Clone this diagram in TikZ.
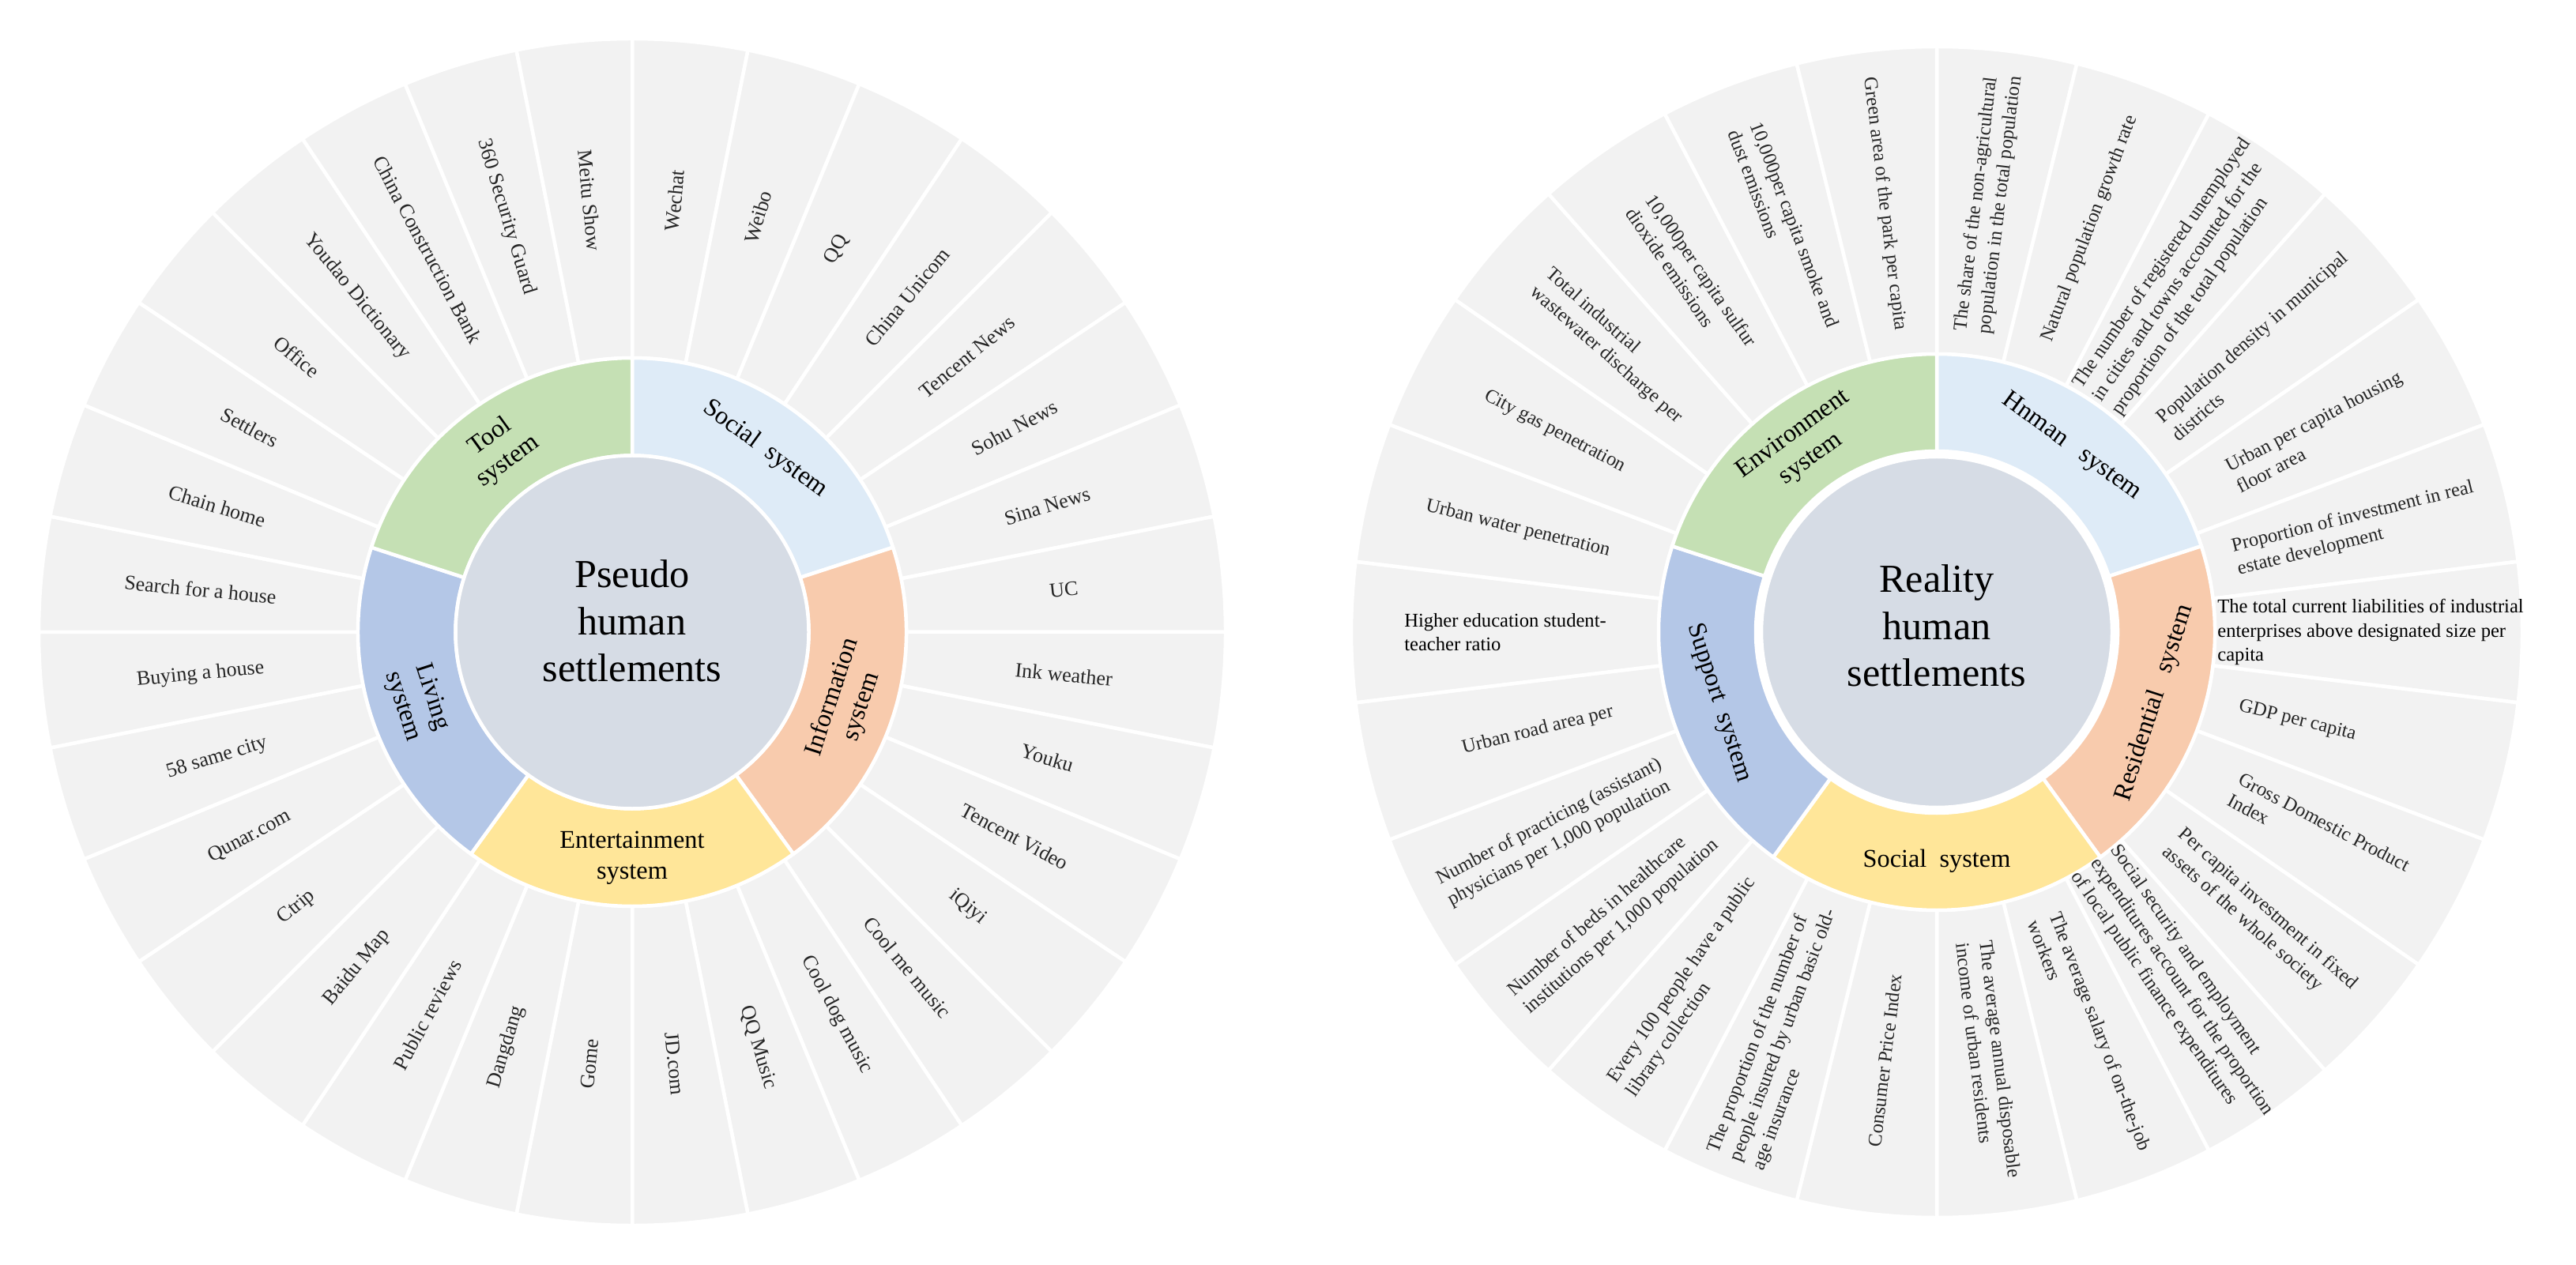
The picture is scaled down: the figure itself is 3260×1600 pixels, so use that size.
\documentclass[tikz,border=0pt]{standalone}
\usepackage{fontspec}
\setmainfont{Liberation Serif}
\usetikzlibrary{calc}
\definecolor{leafgray}{HTML}{F2F2F2}
\definecolor{hubgray}{HTML}{D6DCE5}
\definecolor{sysblue}{HTML}{DEEBF7}
\definecolor{syspeach}{HTML}{F8CBAD}
\definecolor{sysyellow}{HTML}{FFE699}
\definecolor{sysmid}{HTML}{B4C7E7}
\definecolor{sysgreen}{HTML}{C5E0B4}
\definecolor{leafink}{HTML}{262626}
\tikzset{
  sectorline/.style={draw=white, line width=0.45mm},
  lefttext/.style={font=\fontsize{7.4}{8.8}\selectfont, text=leafink, align=left, inner sep=0pt},
  righttext/.style={font=\fontsize{7}{8.6}\selectfont, text=leafink, align=left, inner sep=0pt},
  systext/.style={font=\fontsize{9.2}{11}\selectfont, align=center, inner sep=0pt},
  hubtext/.style={font=\fontsize{14.3}{17}\selectfont, align=center, inner sep=0pt},
}
% annular sector: center, start angle, end angle, inner r, outer r, fill
\newcommand\ringsector[6]{%
  \filldraw[sectorline, fill=#6] ($(#1)+(#2:#5)$) arc[start angle=#2, end angle=#3, radius=#5]
    -- ($(#1)+(#3:#4)$) arc[start angle=#3, end angle=#2, radius=#4] -- cycle;}
% left leaf label: index, name, text
\newcommand\leafL[3]{%
  \pgfmathsetmacro\lfang{90-(#1+0.5)*11.25}%
  \pgfmathsetmacro\lfrot{cos(\lfang)>=0 ? \lfang : \lfang+180}%
  \node[lefttext, rotate=\lfrot] (#2) at ($(cL)+(\lfang:549)$) {#3};}
% right leaf label: [radius], index, name, text
\newcommand\leafR[4][546]{%
  \pgfmathsetmacro\lfang{90-(#2+0.5)*360/26}%
  \pgfmathsetmacro\lfrot{cos(\lfang)>=0 ? \lfang : \lfang+180}%
  \node[righttext, rotate=\lfrot] (#3) at ($(cR)+(\lfang:#1)$) {#4};}
% system label: center, angle, radius, name, text
\newcommand\sysLabel[5]{%
  \pgfmathsetmacro\sysrot{sin(#2)>0 ? #2-90 : #2+90}%
  \node[systext, rotate=\sysrot] (#4) at ($(#1)+(#2:#3)$) {#5};}

\begin{document}
\begin{tikzpicture}[x=0.1mm, y=0.1mm]
\useasboundingbox (0,0) rectangle (3260,1600);
\coordinate (cL) at (800,800);
\coordinate (cR) at (2451,800);

% ---------------- left chart ----------------
\foreach \k in {0,...,31}{
  \pgfmathsetmacro\aone{90-\k*11.25}
  \pgfmathsetmacro\atwo{90-(\k+1)*11.25}
  \ringsector{cL}{\aone}{\atwo}{347}{751}{leafgray}
}
\ringsector{cL}{90}{18}{223.5}{347}{sysblue}
\ringsector{cL}{18}{-54}{223.5}{347}{syspeach}
\ringsector{cL}{-54}{-126}{223.5}{347}{sysyellow}
\ringsector{cL}{-126}{-198}{223.5}{347}{sysmid}
\ringsector{cL}{162}{90}{223.5}{347}{sysgreen}
\filldraw[sectorline, fill=hubgray] (cL) circle[radius=223.5];

\node[hubtext] (hubL) at (800,814) {Pseudo\\human\\settlements};

\sysLabel{cL}{54}{286}{sysL1}{Social\ \ system}
\sysLabel{cL}{-18}{286}{sysL2}{Information\\system}
\sysLabel{cL}{-90}{286}{sysL3}{Entertainment\\system}
\sysLabel{cL}{-162}{286}{sysL4}{Living\\system}
\sysLabel{cL}{126}{286}{sysL5}{Tool\\system}

\leafL{0}{pl0}{Wechat}
\leafL{1}{pl1}{Weibo}
\leafL{2}{pl2}{QQ}
\leafL{3}{pl3}{China Unicom}
\leafL{4}{pl4}{Tencent News}
\leafL{5}{pl5}{Sohu News}
\leafL{6}{pl6}{Sina News}
\leafL{7}{pl7}{UC}
\leafL{8}{pl8}{Ink weather}
\leafL{9}{pl9}{Youku}
\leafL{10}{pl10}{Tencent Video}
\leafL{11}{pl11}{iQiyi}
\leafL{12}{pl12}{Cool me music}
\leafL{13}{pl13}{Cool dog music}
\leafL{14}{pl14}{QQ Music}
\leafL{15}{pl15}{JD.com}
\leafL{16}{pl16}{Gome}
\leafL{17}{pl17}{Dangdang}
\leafL{18}{pl18}{Public reviews}
\leafL{19}{pl19}{Baidu Map}
\leafL{20}{pl20}{Ctrip}
\leafL{21}{pl21}{Qunar.com}
\leafL{22}{pl22}{58 same city}
\leafL{23}{pl23}{Buying a house}
\leafL{24}{pl24}{Search for a house}
\leafL{25}{pl25}{Chain home}
\leafL{26}{pl26}{Settlers}
\leafL{27}{pl27}{Office}
\leafL{28}{pl28}{Youdao Dictionary}
\leafL{29}{pl29}{China Construction Bank}
\leafL{30}{pl30}{360 Security Guard}
\leafL{31}{pl31}{Meitu Show}

% ---------------- right chart ----------------
\foreach \k in {0,...,25}{
  \pgfmathsetmacro\aone{90-\k*360/26}
  \pgfmathsetmacro\atwo{90-(\k+1)*360/26}
  \ringsector{cR}{\aone}{\atwo}{352}{741}{leafgray}
}
\ringsector{cR}{90}{18}{229}{352}{sysblue}
\ringsector{cR}{18}{-54}{229}{352}{syspeach}
\ringsector{cR}{-54}{-126}{229}{352}{sysyellow}
\ringsector{cR}{-126}{-198}{229}{352}{sysmid}
\ringsector{cR}{162}{90}{229}{352}{sysgreen}
\filldraw[sectorline, fill=hubgray] (cR) circle[radius=222];

\node[hubtext] (hubR) at (2451,808) {Reality\\human\\settlements};

\sysLabel{cR}{54}{290}{sysR1}{Hnman\ \ \ system}
\sysLabel{cR}{-18}{290}{sysR2}{Residential\ \ \ system}
\sysLabel{cR}{-90}{290}{sysR3}{Social\ \ system}
\sysLabel{cR}{-162}{290}{sysR4}{Support\ \ system}
\sysLabel{cR}{126}{290}{sysR5}{Environment\\system}

\leafR{0}{pr0}{The share of the non-agricultural\\population in the total population}
\leafR{1}{pr1}{Natural population growth rate}
\leafR{2}{pr2}{The number of registered unemployed\\in cities and towns accounted for the\\proportion of the total population}
\leafR{3}{pr3}{Population density in municipal\\districts}
\leafR{4}{pr4}{Urban per capita housing\\floor area}
\leafR{5}{pr5}{Proportion of investment in real\\estate development}
\leafR[549]{6}{pr6}{\color{black}The total current liabilities of industrial\\\color{black}enterprises above designated size per\\\color{black}capita}
\leafR[470]{7}{pr7}{GDP per capita}
\leafR{8}{pr8}{Gross Domestic Product\\Index}
\leafR{9}{pr9}{Per capita investment in fixed\\assets of the whole society}
\leafR{10}{pr10}{Social security and employment\\expenditures account for the proportion\\of local public finance expenditures}
\leafR{11}{pr11}{The average salary of on-the-job\\workers}
\leafR{12}{pr12}{The average annual disposable\\income of urban residents}
\leafR{13}{pr13}{Consumer Price Index}
\leafR{14}{pr14}{The proportion of the number of\\people insured by urban basic old-\\age insurance}
\leafR{15}{pr15}{Every 100 people have a public\\library collection}
\leafR{16}{pr16}{Number of beds in healthcare\\institutions per 1,000 population}
\leafR{17}{pr17}{Number of practicing (assistant)\\physicians per 1,000 population}
\leafR[520]{18}{pr18}{Urban road area per}
\leafR{19}{pr19}{\color{black}Higher education student-\\\color{black}teacher ratio}
\leafR{20}{pr20}{Urban water penetration}
\leafR{21}{pr21}{City gas penetration}
\leafR{22}{pr22}{Total industrial\\wastewater discharge per}
\leafR{23}{pr23}{10,000per capita sulfur\\dioxide emissions}
\leafR{24}{pr24}{10,000per capita smoke and\\dust emissions}
\leafR{25}{pr25}{Green area of the park per capita}
\end{tikzpicture}
\end{document}
